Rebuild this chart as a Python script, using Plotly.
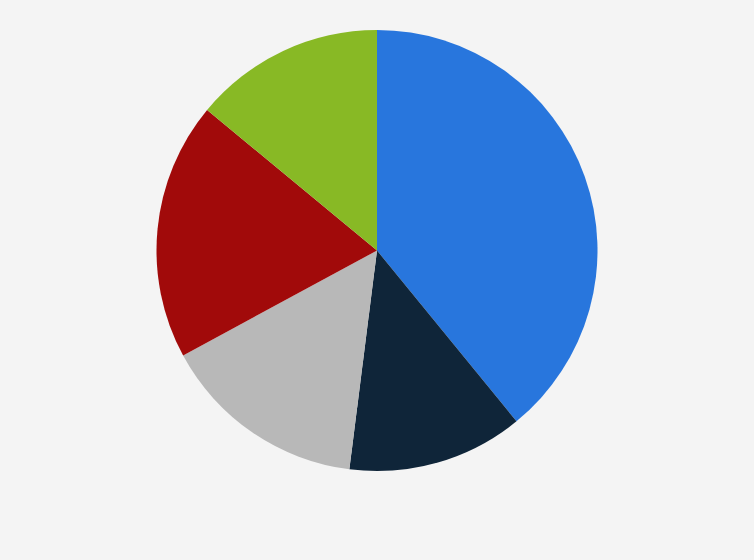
import plotly.graph_objects as go

# slice shares (%), read clockwise from 12 o'clock
labels = ["Segment A", "Segment B", "Segment C", "Segment D", "Segment E"]
shares = [39.1, 12.9, 15.1, 18.9, 14.0]
colors = ["#2876dd", "#0f2539", "#b8b8b8", "#a10a0a", "#88b925"]

fig = go.Figure(go.Pie(
    labels=labels,
    values=shares,
    sort=False,
    direction="clockwise",
    rotation=0,
    textinfo="none",
    marker=dict(colors=colors, line=dict(width=0)),
    hoverinfo="label+percent",
))

fig.update_layout(
    width=754,
    height=560,
    showlegend=False,
    paper_bgcolor="#f4f4f4",
    plot_bgcolor="#f4f4f4",
    margin=dict(l=0, r=0, t=30, b=89),
)

# drop the browser's default page margin so the figure sits at the corner
fig.write_html(
    "out.html",
    config={"displayModeBar": False},
    post_script="document.body.style.margin='0';document.body.style.background='#f4f4f4';",
)
